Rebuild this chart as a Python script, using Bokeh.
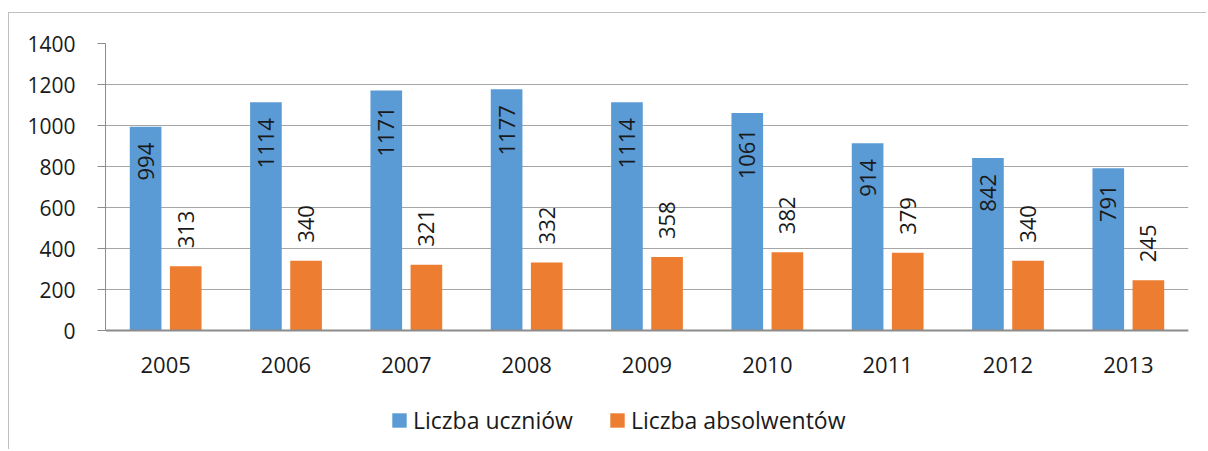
import math
from bokeh.plotting import figure
from bokeh.models import ColumnDataSource, FactorRange, Range1d, Legend, LegendItem, FixedTicker
from bokeh.transform import dodge
from bokeh.core.properties import value
from bokeh.embed import file_html
from bokeh.resources import INLINE

years = ["2005", "2006", "2007", "2008", "2009", "2010", "2011", "2012", "2013"]
uczniowie = [994, 1114, 1171, 1177, 1114, 1061, 914, 842, 791]
absolwenci = [313, 340, 321, 332, 358, 382, 379, 340, 245]
series_names = ["Liczba uczniów", "Liczba absolwentów"]
y_ticks = [0, 200, 400, 600, 800, 1000, 1200, 1400]

FONT = "Open Sans"
BLUE = "#5B9BD5"
ORANGE = "#ED7D31"
TXT = "#1a1a1a"

# layout (pixels)
TOP, BOTTOM_BORDER, FRAME_H = 30, 4, 403
ZERO_FROM_TOP = 287           # pixel distance from 1400 down to 0
y_max = 1400
y_min = -y_max * (FRAME_H - ZERO_FROM_TOP) / ZERO_FROM_TOP

src = ColumnDataSource(dict(
    years=years, u=uczniowie, a=absolwenci,
    ul=[str(v) for v in uczniowie], al=[str(v) for v in absolwenci],
))

p = figure(
    x_range=FactorRange(factors=years, range_padding=0),
    y_range=Range1d(y_min, y_max),
    width=1198, height=TOP + FRAME_H + BOTTOM_BORDER,
    output_backend="svg", toolbar_location=None,
    min_border_left=96, min_border_right=19, min_border_top=TOP, min_border_bottom=BOTTOM_BORDER,
)
p.styles = {"border-left": "1px solid #bfbfbf", "border-top": "1px solid #bfbfbf",
            "margin-top": "12px", "margin-left": "8px"}
p.outline_line_color = None
p.background_fill_color = "white"
p.border_fill_color = "white"

r1 = p.vbar(x=dodge("years", -0.1667, range=p.x_range), top="u", width=0.263, source=src,
            fill_color=BLUE, line_color=None)
r2 = p.vbar(x=dodge("years", 0.1667, range=p.x_range), top="a", width=0.263, source=src,
            fill_color=ORANGE, line_color=None)

p.text(x=dodge("years", -0.1667, range=p.x_range), y="u", text="ul", source=src,
       angle=math.pi / 2, text_align="right", text_baseline="middle", y_offset=16,
       text_font=value(FONT), text_font_size="22px", text_color=TXT)
p.text(x=dodge("years", 0.1667, range=p.x_range), y="a", text="al", source=src,
       angle=math.pi / 2, text_align="left", text_baseline="middle", y_offset=-18,
       text_font=value(FONT), text_font_size="22px", text_color=TXT)

p.xgrid.grid_line_color = None
p.ygrid.grid_line_color = "#a6a6a6"
p.ygrid.ticker = FixedTicker(ticks=y_ticks)

p.yaxis.ticker = FixedTicker(ticks=y_ticks)
p.yaxis.bounds = (0, y_max)
p.yaxis.axis_line_color = "#8c8c8c"
p.yaxis.major_tick_line_color = "#8c8c8c"
p.yaxis.major_tick_out = 8
p.yaxis.major_tick_in = 0
p.yaxis.minor_tick_line_color = None
p.yaxis.major_label_standoff = 22
p.yaxis.major_label_text_font = FONT
p.yaxis.major_label_text_font_size = "21px"
p.yaxis.major_label_text_color = TXT

p.xaxis.fixed_location = 0
p.xaxis.axis_line_color = "#8c8c8c"
p.xaxis.axis_line_width = 2
p.xaxis.major_tick_line_color = None
p.xaxis.minor_tick_line_color = None
p.xaxis.major_label_standoff = 20
p.xaxis.major_label_text_font = FONT
p.xaxis.major_label_text_font_size = "22px"
p.xaxis.major_label_text_color = TXT

legend = Legend(items=[LegendItem(label=series_names[0], renderers=[r1]),
                       LegendItem(label=series_names[1], renderers=[r2])],
                orientation="horizontal", location=(285, 10))
legend.glyph_width = 18
legend.glyph_height = 18
legend.label_standoff = 5
legend.spacing = 35
legend.padding = 0
legend.margin = 0
legend.border_line_color = None
legend.background_fill_alpha = 0
legend.label_text_font = FONT
legend.label_text_font_size = "23px"
legend.label_text_color = TXT
p.add_layout(legend, "center")

open("out.html", "w").write(file_html(p, INLINE))
